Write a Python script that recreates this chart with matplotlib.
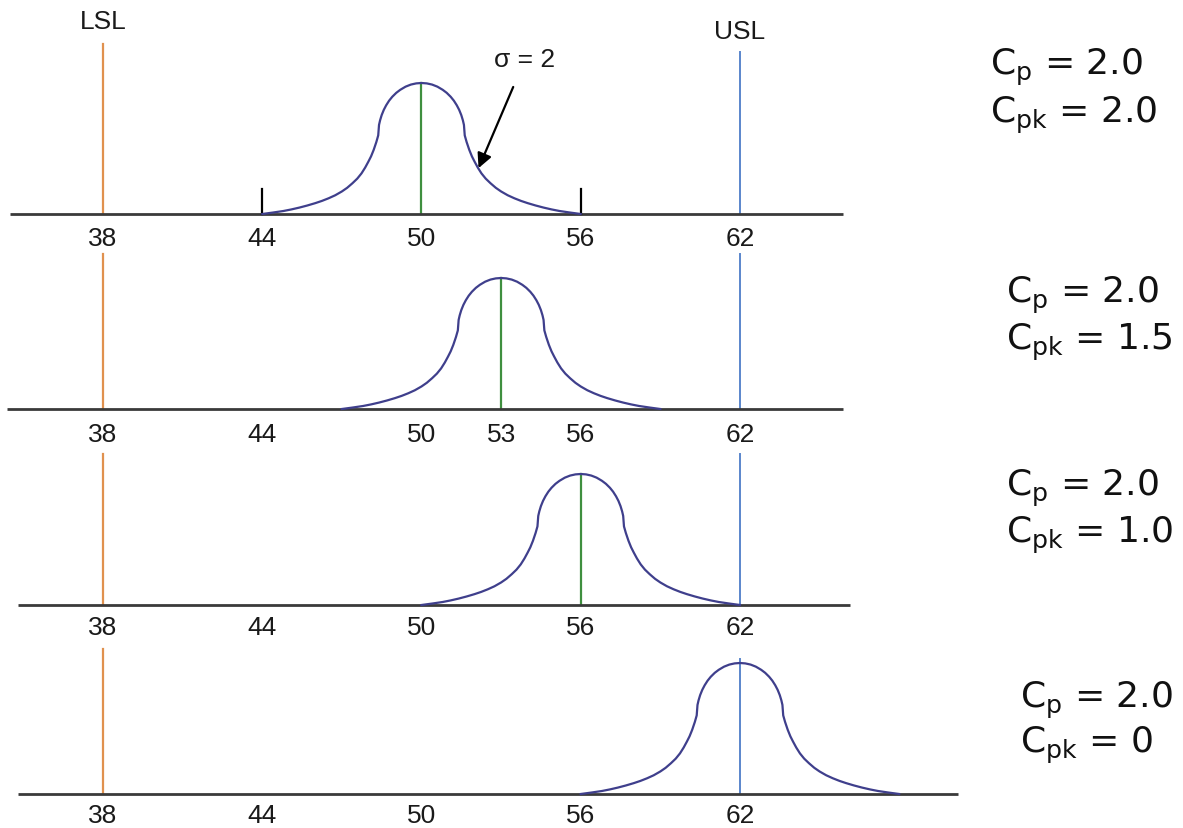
"""Process capability sketch: same spread (Cp = 2.0), mean drifting towards USL."""
import matplotlib
matplotlib.use("Agg")
import matplotlib.pyplot as plt
import numpy as np

# ---------------- data ----------------
LSL = 38
USL = 62
SIGMA_LABEL = "σ = 2"

means = [50, 53, 56, 62]
cp_values = ["2.0", "2.0", "2.0", "2.0"]
cpk_values = ["2.0", "1.5", "1.0", "0"]
tick_values = [
    [38, 44, 50, 56, 62],
    [38, 44, 50, 53, 56, 62],
    [38, 44, 50, 56, 62],
    [38, 44, 50, 56, 62],
]

# bell shape: offset from the mean (units) vs
# relative height (1 = peak); mirrored for the left half
profile_dx = [0, 0.2, 0.4, 0.6, 0.8, 0.95, 1.1, 1.22, 1.33, 1.42, 1.5,
              1.56, 1.6, 1.63, 1.7, 1.8, 1.9, 2.0, 2.12, 2.26, 2.42, 2.6,
              2.8, 3.0, 3.25, 3.5, 3.75, 4.0, 4.3, 4.6, 4.9, 5.2, 5.6, 6.0]
profile_h = [1.0, 0.997, 0.988, 0.972, 0.948, 0.925, 0.895, 0.865, 0.83,
             0.795, 0.755, 0.715, 0.68, 0.60, 0.55, 0.49, 0.44, 0.40, 0.355,
             0.31, 0.27, 0.235, 0.20, 0.172, 0.143, 0.12, 0.10, 0.083,
             0.065, 0.049, 0.035, 0.023, 0.011, 0.0]

# ---------------- layout ----------------
W, H = 1183, 829
PX_X = 26.54                 # px per x unit
X0 = LSL - 103 / PX_X        # data x at left figure edge
PX_Y = 131.0                 # px per unit of curve height
baselines_px = [215, 410, 606, 795]
axis_span = [(34.5, 65.9), (34.4, 65.9), (34.8, 66.15), (34.8, 70.2)]
lsl_top = [1.30, 1.18, 1.15, 1.11]
usl_top = [1.24, 1.18, 1.15, 1.03]
cp_pos = [(990, 67, 115), (1006, 295, 342), (1006, 488, 535), (1020, 700, 745)]
tick_y = [-0.18, -0.19, -0.17, -0.16]

C_AXIS = "#3a3a3a"
C_CURVE = "#3f3f8c"
C_MEAN = "#3f8f3f"
C_LSL = "#e0914e"
C_USL = "#5a86cc"
TICK_FONT = ["Liberation Sans", "DejaVu Sans"]

fig = plt.figure(figsize=(W / 100, H / 100), dpi=100)
fig.patch.set_facecolor("white")

dx = np.array(profile_dx)
hh = np.array(profile_h)
shape_x = np.concatenate([-dx[::-1], dx[1:]])
shape_h = np.concatenate([hh[::-1], hh[1:]])

below, above = 60, 185
for i, base in enumerate(baselines_px):
    ax = fig.add_axes([0, 1 - (base + below) / H, 1, (below + above) / H])
    ax.set_xlim(X0, X0 + W / PX_X)
    ax.set_ylim(-below / PX_Y, above / PX_Y)
    ax.axis("off")
    ax.patch.set_alpha(0)

    mu = means[i]
    # horizontal scale line
    ax.plot(axis_span[i], [0, 0], color=C_AXIS, lw=2.0, zorder=3,
            solid_capstyle="butt")
    # spec limits
    ax.plot([LSL, LSL], [0, lsl_top[i]], color=C_LSL, lw=1.6, zorder=2)
    ax.plot([USL, USL], [0, usl_top[i]], color=C_USL, lw=1.4, zorder=2)
    # mean line
    if mu != USL:
        ax.plot([mu, mu], [0, 1.0], color=C_MEAN, lw=1.6, zorder=2)
    # distribution
    ax.plot(mu + shape_x, shape_h, color=C_CURVE, lw=1.6, zorder=4,
            solid_joinstyle="round")

    for t in tick_values[i]:
        ax.text(t, tick_y[i], str(t), ha="center", va="center",
                fontsize=19, family=TICK_FONT, color="#1a1a1a")

    cx, y1, y2 = cp_pos[i]
    fig.text(cx / W, 1 - y1 / H, r"C$_\mathregular{p}$ = " + cp_values[i],
             ha="left", va="center", fontsize=26, family="DejaVu Sans",
             color="#111111")
    fig.text(cx / W, 1 - y2 / H, r"C$_\mathregular{pk}$ = " + cpk_values[i],
             ha="left", va="center", fontsize=26, family="DejaVu Sans",
             color="#111111")

    if i == 0:
        # ±3σ end markers
        for t in (mu - 6, mu + 6):
            ax.plot([t, t], [0, 0.19], color="black", lw=1.6, zorder=3)
        ax.text(LSL, (base - 22) / PX_Y, "LSL", ha="center", va="center",
                fontsize=19, family=TICK_FONT, color="#1a1a1a")
        ax.text(USL, (base - 32) / PX_Y, "USL", ha="center", va="center",
                fontsize=19, family=TICK_FONT, color="#1a1a1a")
        ax.annotate(SIGMA_LABEL, xy=(mu + 2.15, 0.35), xytext=(mu + 3.9, 1.18),
                    ha="center", va="center", fontsize=19, family=TICK_FONT,
                    color="#1a1a1a",
                    arrowprops=dict(arrowstyle="-|>", color="black", lw=1.6,
                                    mutation_scale=22, shrinkA=10, shrinkB=0))

fig.savefig("out.png", dpi=100, facecolor="white")
